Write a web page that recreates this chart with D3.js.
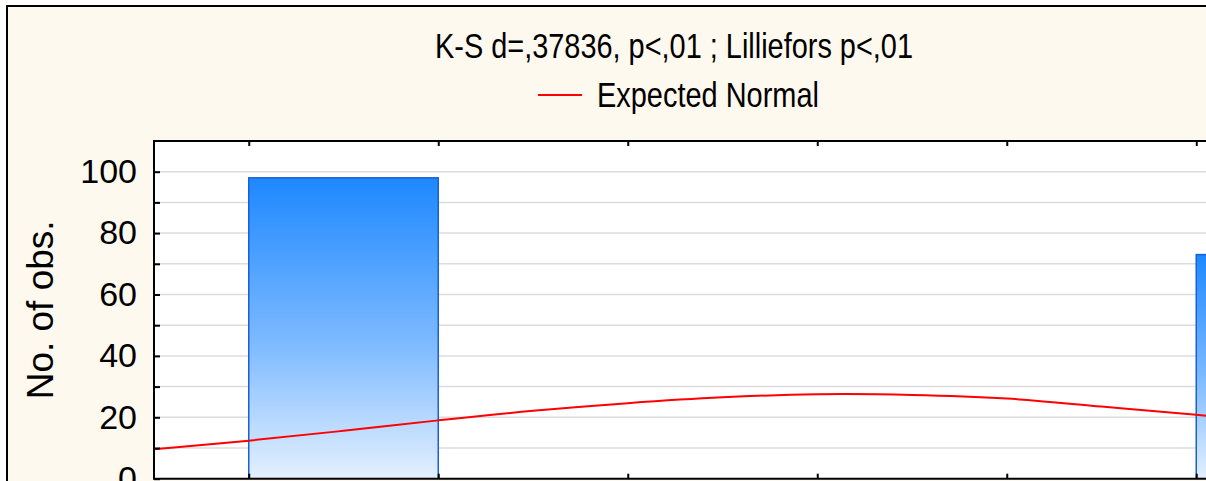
<!DOCTYPE html>
<html>
<head>
<meta charset="utf-8">
<script src="https://cdn.jsdelivr.net/npm/d3@7"></script>
<style>
  html, body { margin: 0; padding: 0; background: #fff; overflow: hidden; }
  text { font-family: "Liberation Sans", Arial, sans-serif; fill: #000; }
</style>
</head>
<body>
<div id="chart"></div>
<script>
// histogram bins (lower edges) and counts
const binEdges = [0, 1, 2, 3, 4, 5];
const counts = [98, 0, 0, 0, 0, 73];

// expected normal curve
const curveX = [-0.5, 0, 0.5, 1, 1.5, 2, 2.5, 3, 3.5, 4, 4.5, 5, 5.5];
const curveY = [9.6, 12.4, 15.6, 19.0, 22.1, 24.6, 26.5, 27.5, 27.3, 26.1, 23.5, 20.8, 17.8];

const yMajor = [0, 20, 40, 60, 80, 100];
const yMinor = [10, 30, 50, 70, 90];
const xTicks = [0, 1, 2, 3, 4, 5, 6];

const titleText = "K-S d=,37836, p<,01 ; Lilliefors p<,01";
const legendText = "Expected Normal";
const yTitle = "No. of obs.";

const W = 1206, H = 481;
const plot = { left: 154, top: 141, bottom: 478.7 };

const svg = d3.select("#chart").append("svg")
    .attr("width", W).attr("height", H);

// outer frame
svg.append("rect")
    .attr("x", 7).attr("y", 6)
    .attr("width", W + 50).attr("height", H + 50)
    .attr("fill", "#fef9ef")
    .attr("stroke", "#000").attr("stroke-width", 2);

const x = d3.scaleLinear().domain([-0.5, 6.5]).range([plot.left, plot.left + 7 * 189.5]);
const y = d3.scaleLinear().domain([0, 110]).range([plot.bottom, plot.top]);

// plot background
svg.append("rect")
    .attr("x", plot.left).attr("y", plot.top)
    .attr("width", W).attr("height", plot.bottom - plot.top)
    .attr("fill", "#fff");

svg.append("clipPath").attr("id", "clip")
  .append("rect")
    .attr("x", plot.left).attr("y", plot.top)
    .attr("width", W).attr("height", plot.bottom - plot.top);

// gridlines
svg.append("g")
    .selectAll("line")
    .data(d3.range(10, 110, 10))
    .join("line")
    .attr("x1", plot.left).attr("x2", W)
    .attr("y1", d => y(d)).attr("y2", d => y(d))
    .attr("stroke", "#dcdcdc").attr("stroke-width", 1.5);

// bars
const defs = svg.append("defs");
const grad = defs.append("linearGradient")
    .attr("id", "barGrad").attr("x1", 0).attr("y1", 0).attr("x2", 0).attr("y2", 1);
grad.append("stop").attr("offset", "0%").attr("stop-color", "#1e88ff");
grad.append("stop").attr("offset", "55%").attr("stop-color", "#7dbaff");
grad.append("stop").attr("offset", "100%").attr("stop-color", "#e4f0ff");

const bars = binEdges.map((e, i) => ({ x0: e, x1: e + 1, n: counts[i] })).filter(d => d.n > 0);

const barG = svg.append("g").attr("clip-path", "url(#clip)");
barG.selectAll("rect")
    .data(bars)
    .join("rect")
    .attr("x", d => x(d.x0))
    .attr("y", d => y(d.n))
    .attr("width", d => x(d.x1) - x(d.x0))
    .attr("height", d => y(0) - y(d.n))
    .attr("fill", "url(#barGrad)")
    .attr("stroke", "#1a5fd6").attr("stroke-width", 1.5);

// expected normal
const line = d3.line()
    .x(d => x(d[0])).y(d => y(d[1]))
    .curve(d3.curveCatmullRom);

svg.append("path")
    .attr("clip-path", "url(#clip)")
    .datum(curveX.map((v, i) => [v, curveY[i]]))
    .attr("d", line)
    .attr("fill", "none")
    .attr("stroke", "#ff0000").attr("stroke-width", 2);

// y axis: major with labels, minor without
const yAxis = svg.append("g")
    .attr("transform", `translate(${plot.left},0)`)
    .call(d3.axisLeft(y).tickValues(yMajor).tickSize(-6).tickPadding(17).tickFormat(d3.format("d")));
svg.append("g")
    .attr("transform", `translate(${plot.left},0)`)
    .call(d3.axisLeft(y).tickValues(yMinor).tickSize(-6).tickFormat(""))
    .call(g => g.select(".domain").remove());
yAxis.selectAll("text").attr("font-size", 34).attr("font-family", "Liberation Sans, Arial, sans-serif");

// top and bottom x ticks
svg.append("g")
    .attr("transform", `translate(0,${plot.top})`)
    .call(d3.axisBottom(x).tickValues(xTicks).tickSize(5).tickFormat(""))
    .call(g => g.select(".domain").remove());
svg.append("g")
    .attr("transform", `translate(0,${plot.bottom})`)
    .call(d3.axisTop(x).tickValues(xTicks).tickSize(5).tickFormat(""))
    .call(g => g.select(".domain").remove());

svg.selectAll(".tick line").attr("stroke", "#000").attr("stroke-width", 2);
yAxis.select(".domain").remove();

// plot frame lines
svg.append("line")
    .attr("x1", plot.left).attr("x2", plot.left)
    .attr("y1", plot.top).attr("y2", plot.bottom)
    .attr("stroke", "#000").attr("stroke-width", 2);
svg.append("line")
    .attr("x1", plot.left - 1).attr("x2", W)
    .attr("y1", plot.top).attr("y2", plot.top)
    .attr("stroke", "#000").attr("stroke-width", 2);
svg.append("line")
    .attr("x1", plot.left - 1).attr("x2", W)
    .attr("y1", plot.bottom).attr("y2", plot.bottom)
    .attr("stroke", "#000").attr("stroke-width", 2);

// y title
svg.append("text")
    .attr("transform", `translate(53,${(plot.top + plot.bottom) / 2}) rotate(-90)`)
    .attr("text-anchor", "middle")
    .attr("font-size", 37)
    .text(yTitle);

// title and legend
svg.append("text")
    .attr("x", 435).attr("y", 58)
    .attr("font-size", 35.5)
    .attr("textLength", 478).attr("lengthAdjust", "spacingAndGlyphs")
    .text(titleText);

svg.append("line")
    .attr("x1", 538).attr("x2", 582)
    .attr("y1", 95).attr("y2", 95)
    .attr("stroke", "#ff0000").attr("stroke-width", 2);
svg.append("text")
    .attr("x", 597).attr("y", 107)
    .attr("font-size", 34.5)
    .attr("textLength", 222).attr("lengthAdjust", "spacingAndGlyphs")
    .text(legendText);
</script>
</body>
</html>
